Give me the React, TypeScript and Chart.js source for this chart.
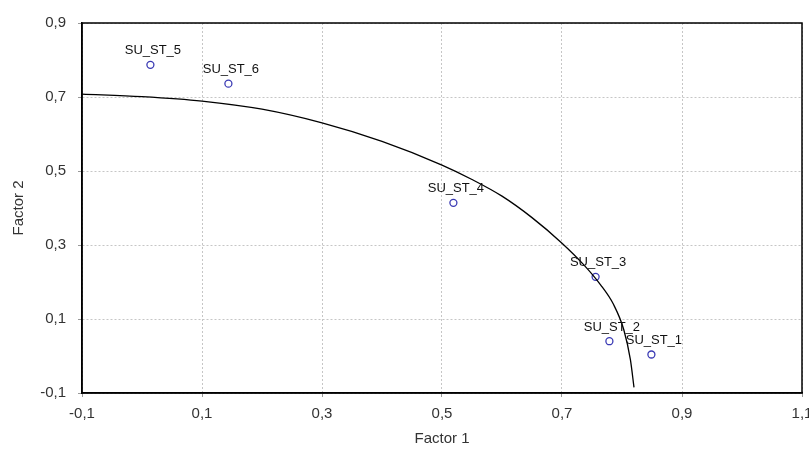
import React, { useEffect, useRef } from "react";
import { Chart, registerables } from "chart.js";

Chart.register(...registerables);

// Factor loadings (Factor 1, Factor 2)
const pointNames = ["SU_ST_1", "SU_ST_2", "SU_ST_3", "SU_ST_4", "SU_ST_5", "SU_ST_6"];
const factor1 = [0.849, 0.779, 0.756, 0.519, 0.014, 0.144];
const factor2 = [0.004, 0.040, 0.214, 0.414, 0.787, 0.736];

// Curve
const curveX = [-0.1, 0.0, 0.1, 0.2, 0.3, 0.4, 0.5, 0.55, 0.6, 0.65, 0.7, 0.736, 0.764, 0.786, 0.803, 0.814, 0.82];
const curveY = [0.708, 0.701, 0.689, 0.667, 0.63, 0.58, 0.516, 0.477, 0.432, 0.374, 0.305, 0.247, 0.193, 0.139, 0.071, -0.01, -0.085];

const xTicks = [-0.1, 0.1, 0.3, 0.5, 0.7, 0.9, 1.1];
const yTicks = [-0.1, 0.1, 0.3, 0.5, 0.7, 0.9];

const fmt = (v: number) => v.toFixed(1).replace(".", ",");
const FONT = '"Liberation Sans", Arial, sans-serif';

const framePlugin = {
  id: "frame",
  afterDraw(chart: any) {
    const { ctx, chartArea: a } = chart;
    ctx.save();
    ctx.strokeStyle = "#000";
    ctx.lineWidth = 1.5;
    ctx.setLineDash([]);
    ctx.strokeRect(a.left, a.top, a.right - a.left, a.bottom - a.top);
    ctx.restore();
  },
};

const labelPlugin = {
  id: "pointLabels",
  afterDatasetsDraw(chart: any) {
    const { ctx } = chart;
    const meta = chart.getDatasetMeta(1);
    ctx.save();
    ctx.font = `13px ${FONT}`;
    ctx.fillStyle = "#111";
    ctx.textAlign = "center";
    ctx.textBaseline = "middle";
    meta.data.forEach((el: any, i: number) => {
      ctx.fillText(pointNames[i], el.x + 2.5, el.y - 14);
    });
    ctx.restore();
  },
};

export default function App() {
  const ref = useRef<HTMLCanvasElement>(null);
  useEffect(() => {
    if (!ref.current) return;
    const chart = new Chart(ref.current, {
      type: "scatter",
      data: {
        datasets: [
          {
            type: "line",
            data: curveX.map((x, i) => ({ x, y: curveY[i] })),
            borderColor: "#000",
            borderWidth: 1.3,
            pointRadius: 0,
            fill: false,
            cubicInterpolationMode: "monotone",
          } as any,
          {
            data: factor1.map((x, i) => ({ x, y: factor2[i] })),
            pointStyle: "circle",
            pointRadius: 3.5,
            pointBorderWidth: 1.3,
            borderColor: "#3a3ab4",
            backgroundColor: "#ffffff",
            pointBackgroundColor: "#ffffff",
            pointBorderColor: "#3a3ab4",
          },
        ],
      },
      options: {
        responsive: false,
        animation: false,
        layout: { padding: { left: 0, top: 23, right: 7, bottom: 0 } },
        plugins: { legend: { display: false }, tooltip: { enabled: false }, title: { display: false } },
        scales: {
          x: {
            type: "linear",
            min: -0.1,
            max: 1.1,
            afterBuildTicks: (s: any) => {
              s.ticks = xTicks.map((v) => ({ value: v }));
            },
            afterFit: (s: any) => {
              s.height = 62;
              s.paddingLeft = 0;
              s.paddingRight = 0;
            },
            ticks: {
              callback: (v: any) => fmt(Number(v)),
              font: { size: 15, family: FONT },
              color: "#333",
              padding: 8,
              maxRotation: 0,
              autoSkip: false,
            },
            grid: { color: "#c6c6c6", lineWidth: 1, tickLength: 4, tickColor: "#999" },
            border: { color: "#000", width: 1.5, dash: [2, 2] },
            title: {
              display: true,
              text: "Factor 1",
              font: { size: 15, family: FONT },
              color: "#333",
              padding: { top: 0, bottom: 7 },
            },
          },
          y: {
            type: "linear",
            min: -0.1,
            max: 0.9,
            afterBuildTicks: (s: any) => {
              s.ticks = yTicks.map((v) => ({ value: v }));
            },
            afterFit: (s: any) => {
              s.width = 82;
              s.paddingTop = 0;
              s.paddingBottom = 0;
            },
            ticks: {
              callback: (v: any) => fmt(Number(v)),
              font: { size: 15, family: FONT },
              color: "#333",
              padding: 12,
              autoSkip: false,
            },
            grid: { color: "#c6c6c6", lineWidth: 1, tickLength: 4, tickColor: "#999" },
            border: { color: "#000", width: 1.5, dash: [2, 2] },
            title: {
              display: true,
              text: "Factor 2",
              font: { size: 15, family: FONT },
              color: "#333",
              padding: { top: 10, bottom: 0 },
            },
          },
        },
      },
      plugins: [framePlugin, labelPlugin],
    });
    return () => chart.destroy();
  }, []);
  return (
    <div style={{ position: "fixed", left: 0, top: 0, width: 809, height: 455, background: "#fff" }}>
      <canvas ref={ref} width={809} height={455} />
    </div>
  );
}
